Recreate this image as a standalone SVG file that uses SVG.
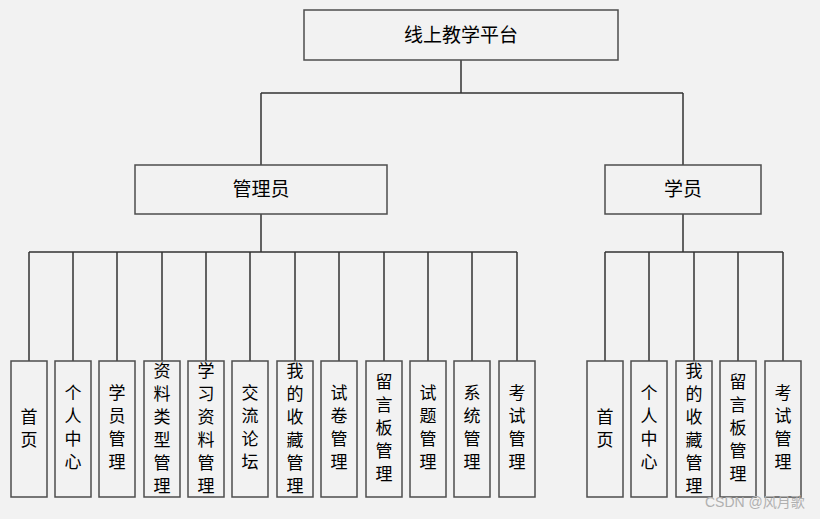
<svg xmlns="http://www.w3.org/2000/svg" width="820" height="519" viewBox="0 0 820 519">
<style>
.box{fill:#f2f2f2;stroke:#4d4d4d;stroke-width:1.5}
.h{font-family:"Noto Sans CJK SC","Liberation Sans",sans-serif;font-size:19px;fill:#000;text-anchor:middle}
.t{font-family:"Noto Sans CJK SC","Liberation Sans",sans-serif;font-size:17px;fill:#000;text-anchor:middle}
.ln{fill:none;stroke:#333;stroke-width:1.5}
.wm{font-family:"Liberation Sans","Noto Sans CJK SC",sans-serif;font-size:14px;fill:#b0b0b0}
</style>
<rect width="820" height="519" fill="#f2f2f2"/>
<g id="connectors">
<path class="ln" d="M461 60V93M261 93H683M261 93V165M683 93V165"/>
<path class="ln" d="M261 214V252M29 252H517M29 252V361M73 252V361M117 252V361M162 252V361M206 252V361M250 252V361M295 252V361M339 252V361M384 252V361M428 252V361M472 252V361M517 252V361"/>
<path class="ln" d="M683 214V252M605 252H783M605 252V361M649 252V361M694 252V361M738 252V361M783 252V361"/>
</g>
<g id="root"><rect class="box" x="304" y="10" width="314" height="50"/><text class="h" x="461" y="42">线上教学平台</text></g>
<g id="admin"><rect class="box" x="135" y="165" width="252" height="49"/><text class="h" x="261" y="196">管理员</text></g>
<g id="student"><rect class="box" x="605" y="165" width="156" height="49"/><text class="h" x="683" y="196">学员</text></g>
<g id="a1"><rect class="box" x="11" y="361" width="36" height="136"/><text class="t"><tspan x="29" y="423">首</tspan><tspan x="29" y="446">页</tspan></text></g>
<g id="a2"><rect class="box" x="55" y="361" width="36" height="136"/><text class="t"><tspan x="73" y="399">个</tspan><tspan x="73" y="422">人</tspan><tspan x="73" y="445">中</tspan><tspan x="73" y="468">心</tspan></text></g>
<g id="a3"><rect class="box" x="99" y="361" width="36" height="136"/><text class="t"><tspan x="117" y="399">学</tspan><tspan x="117" y="422">员</tspan><tspan x="117" y="445">管</tspan><tspan x="117" y="468">理</tspan></text></g>
<g id="a4"><rect class="box" x="144" y="361" width="36" height="136"/><text class="t"><tspan x="162" y="377">资</tspan><tspan x="162" y="400">料</tspan><tspan x="162" y="423">类</tspan><tspan x="162" y="446">型</tspan><tspan x="162" y="469">管</tspan><tspan x="162" y="492">理</tspan></text></g>
<g id="a5"><rect class="box" x="188" y="361" width="36" height="136"/><text class="t"><tspan x="206" y="377">学</tspan><tspan x="206" y="400">习</tspan><tspan x="206" y="423">资</tspan><tspan x="206" y="446">料</tspan><tspan x="206" y="469">管</tspan><tspan x="206" y="492">理</tspan></text></g>
<g id="a6"><rect class="box" x="232" y="361" width="36" height="136"/><text class="t"><tspan x="250" y="399">交</tspan><tspan x="250" y="422">流</tspan><tspan x="250" y="445">论</tspan><tspan x="250" y="468">坛</tspan></text></g>
<g id="a7"><rect class="box" x="277" y="361" width="36" height="136"/><text class="t"><tspan x="295" y="377">我</tspan><tspan x="295" y="400">的</tspan><tspan x="295" y="423">收</tspan><tspan x="295" y="446">藏</tspan><tspan x="295" y="469">管</tspan><tspan x="295" y="492">理</tspan></text></g>
<g id="a8"><rect class="box" x="321" y="361" width="36" height="136"/><text class="t"><tspan x="339" y="399">试</tspan><tspan x="339" y="422">卷</tspan><tspan x="339" y="445">管</tspan><tspan x="339" y="468">理</tspan></text></g>
<g id="a9"><rect class="box" x="366" y="361" width="36" height="136"/><text class="t"><tspan x="384" y="388">留</tspan><tspan x="384" y="411">言</tspan><tspan x="384" y="434">板</tspan><tspan x="384" y="457">管</tspan><tspan x="384" y="480">理</tspan></text></g>
<g id="a10"><rect class="box" x="410" y="361" width="36" height="136"/><text class="t"><tspan x="428" y="399">试</tspan><tspan x="428" y="422">题</tspan><tspan x="428" y="445">管</tspan><tspan x="428" y="468">理</tspan></text></g>
<g id="a11"><rect class="box" x="454" y="361" width="36" height="136"/><text class="t"><tspan x="472" y="399">系</tspan><tspan x="472" y="422">统</tspan><tspan x="472" y="445">管</tspan><tspan x="472" y="468">理</tspan></text></g>
<g id="a12"><rect class="box" x="499" y="361" width="36" height="136"/><text class="t"><tspan x="517" y="399">考</tspan><tspan x="517" y="422">试</tspan><tspan x="517" y="445">管</tspan><tspan x="517" y="468">理</tspan></text></g>
<g id="s1"><rect class="box" x="587" y="361" width="36" height="136"/><text class="t"><tspan x="605" y="423">首</tspan><tspan x="605" y="446">页</tspan></text></g>
<g id="s2"><rect class="box" x="631" y="361" width="36" height="136"/><text class="t"><tspan x="649" y="399">个</tspan><tspan x="649" y="422">人</tspan><tspan x="649" y="445">中</tspan><tspan x="649" y="468">心</tspan></text></g>
<g id="s3"><rect class="box" x="676" y="361" width="36" height="136"/><text class="t"><tspan x="694" y="377">我</tspan><tspan x="694" y="400">的</tspan><tspan x="694" y="423">收</tspan><tspan x="694" y="446">藏</tspan><tspan x="694" y="469">管</tspan><tspan x="694" y="492">理</tspan></text></g>
<g id="s4"><rect class="box" x="720" y="361" width="36" height="136"/><text class="t"><tspan x="738" y="388">留</tspan><tspan x="738" y="411">言</tspan><tspan x="738" y="434">板</tspan><tspan x="738" y="457">管</tspan><tspan x="738" y="480">理</tspan></text></g>
<g id="s5"><rect class="box" x="765" y="361" width="36" height="136"/><text class="t"><tspan x="783" y="399">考</tspan><tspan x="783" y="422">试</tspan><tspan x="783" y="445">管</tspan><tspan x="783" y="468">理</tspan></text></g>
<text class="wm" x="705" y="507">CSDN @风月歌</text>
</svg>
